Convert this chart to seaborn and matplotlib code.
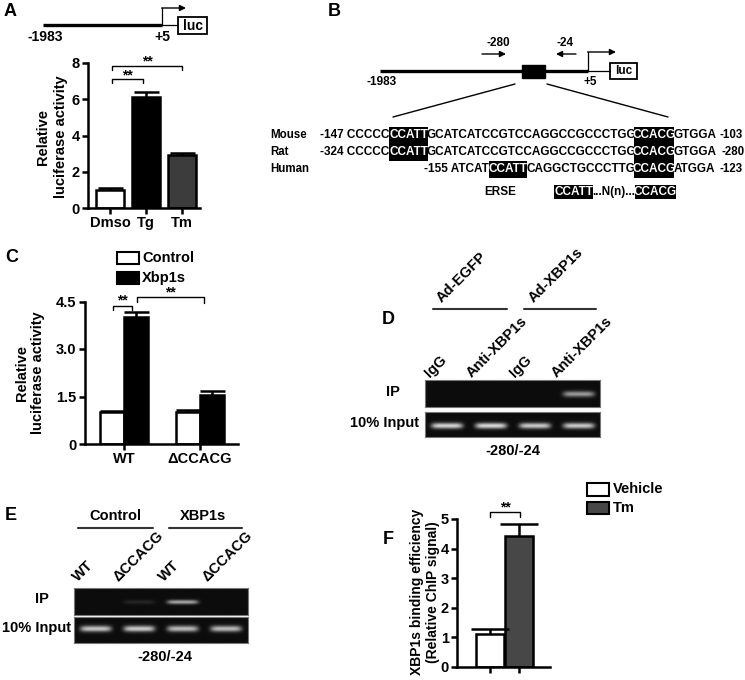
import numpy as np
import pandas as pd
import matplotlib
matplotlib.use("Agg")
import matplotlib.pyplot as plt
import seaborn as sns
from matplotlib.patches import Rectangle

sns.set_theme(style="ticks")
plt.rcParams["font.family"] = ["Liberation Sans", "DejaVu Sans"]
plt.rcParams["font.weight"] = "bold"
plt.rcParams["axes.labelweight"] = "bold"
plt.rcParams["axes.edgecolor"] = "black"
plt.rcParams["xtick.color"] = "black"
plt.rcParams["ytick.color"] = "black"
plt.rcParams["text.color"] = "black"

# ---------------- data ----------------
a_treat = ["Dmso", "Tg", "Tm"]
a_mean = [1.0, 6.1, 2.9]
a_err = [0.08, 0.32, 0.15]
a_colors = ["white", "black", "#3c3c3c"]

c_construct = ["WT", "ΔCCACG"]
c_group = ["Control", "Xbp1s"]
c_control = [1.0, 1.02]
c_xbp1s = [4.0, 1.55]
c_control_err = [0.04, 0.04]
c_xbp1s_err = [0.17, 0.12]

f_treat = ["Vehicle", "Tm"]
f_mean = [1.1, 4.42]
f_err = [0.2, 0.42]
f_colors = ["white", "#474747"]

d_lanes = ["IgG", "Anti-XBP1s", "IgG", "Anti-XBP1s"]
d_groups = ["Ad-EGFP", "Ad-XBP1s"]
d_ip = [0.0, 0.0, 0.0, 0.55]
d_input = [0.78, 0.80, 0.74, 0.74]

e_lanes = ["WT", "ΔCCACG", "WT", "ΔCCACG"]
e_groups = ["Control", "XBP1s"]
e_ip = [0.0, 0.1, 0.6, 0.0]
e_input = [0.72, 0.74, 0.68, 0.68]

seq_species = ["Mouse", "Rat", "Human"]
seq_start = ["-147", "-324", "-155"]
seq_end = ["-103", "-280", "-123"]
seq_pre = ["CCCCC", "CCCCC", "ATCAT"]
seq_box1 = ["CCATT", "CCATT", "CCATT"]
seq_mid = ["GCATCATCCGTCCAGGCCGCCCTGG", "GCATCATCCGTCCAGGCCGCCCTGG", "CAGGCTGCCCTTG"]
seq_box2 = ["CCACG", "CCACG", "CCACG"]
seq_post = ["GTGGA", "GTGGA", "ATGGA"]

# ---------------- figure ----------------
W, H = 745, 680
fig = plt.figure(figsize=(W / 100, H / 100), dpi=100)
fig.patch.set_facecolor("white")

ov = fig.add_axes([0, 0, 1, 1])
ov.set_xlim(0, W)
ov.set_ylim(H, 0)
ov.axis("off")


def px_axes(x0, y0, x1, y1):
    return fig.add_axes([x0 / W, 1 - y1 / H, (x1 - x0) / W, (y1 - y0) / H])


def T(x, y, s, size=10, ha="center", va="center", **kw):
    ov.text(x, y, s, fontsize=size, fontweight="bold", ha=ha, va=va, **kw)


def box(x0, y0, x1, y1, fc="white", lw=1.3):
    ov.add_patch(Rectangle((x0, y0), x1 - x0, y1 - y0, facecolor=fc,
                           edgecolor="black", lw=lw))


def arrow(x0, y0, x1, y1, lw=1.0):
    ov.annotate("", xy=(x1, y1), xytext=(x0, y0),
                arrowprops=dict(arrowstyle="-|>", color="black", lw=lw,
                                mutation_scale=9, shrinkA=0, shrinkB=0))


def style_bar_ax(ax):
    sns.despine(ax=ax)
    for s in ["left", "bottom"]:
        ax.spines[s].set_linewidth(1.8)
    ax.tick_params(width=1.8, length=4, labelsize=10.5, pad=2)
    ax.set_xlabel("")
    ax.set_ylabel("")
    ax.set_facecolor("none")


def errbars(ax, xs, hs, es, cap):
    _, caps, _ = ax.errorbar(xs, hs, yerr=[np.zeros(len(es)), es], fmt="none",
                             ecolor="black", elinewidth=1.8, capsize=cap,
                             capthick=1.8, zorder=5)
    if len(caps) == 2:
        caps[0].set_visible(False)


def bracket(ax, x1, x2, y, l1, l2, ty, size=10):
    ax.plot([x1, x1, x2, x2], [l1, y, y, l2], color="black", lw=1.0,
            clip_on=False)
    ax.text((x1 + x2) / 2, ty, "**", ha="center", va="center",
            fontsize=size, fontweight="bold", clip_on=False)


# ================= Panel A =================
T(10, 12, "A", size=13)
ov.plot([43, 162], [25, 25], color="black", lw=2.4, solid_capstyle="butt")
ov.plot([162, 178], [25, 25], color="black", lw=0.9)
ov.plot([162, 162], [25, 8], color="black", lw=0.9)
arrow(161.6, 8, 186, 8)
box(178, 17, 207, 34)
T(192.5, 25.5, "luc", size=10)
T(45, 37, "-1983", size=10)
T(162, 37, "+5", size=10)

axA = px_axes(88, 63, 200, 208)
sns.barplot(x=a_treat, y=a_mean, hue=a_treat, palette=a_colors, legend=False,
            edgecolor="black", linewidth=1.8, width=0.78, ax=axA)
xs = [p.get_x() + p.get_width() / 2 for p in axA.patches]
errbars(axA, xs, a_mean, a_err, 9)
axA.set_ylim(0, 8)
axA.set_xlim(-0.61, 2.5)
axA.set_yticks([0, 2, 4, 6, 8])
style_bar_ax(axA)
bracket(axA, 0.06, 0.92, 7.1, 6.88, 6.88, 7.3)
bracket(axA, 0.06, 2.0, 7.85, 7.6, 7.6, 8.1)
T(52, 137, "Relative\nluciferase activity", size=10.5, rotation=90,
  linespacing=1.3)

# ================= Panel B =================
T(334, 11, "B", size=13)
ov.plot([380, 588], [71, 71], color="black", lw=2.4, solid_capstyle="butt")
ov.add_patch(Rectangle((522, 65), 23, 13, facecolor="black", edgecolor="black"))
ov.plot([588, 610], [71, 71], color="black", lw=0.9)
ov.plot([588, 588], [71, 52], color="black", lw=0.9)
arrow(587.6, 52, 616, 52)
box(610, 63, 637, 79)
T(623.5, 71, "luc", size=8.5)
T(382, 82, "-1983", size=8.5)
T(590, 82, "+5", size=8.5)
T(498, 43, "-280", size=8.5)
arrow(482, 54, 506, 54)
T(565, 43, "-24", size=8.5)
arrow(576, 54, 556, 54)
ov.plot([515, 393], [84, 117], color="black", lw=1.0)
ov.plot([547, 668], [84, 117], color="black", lw=1.0)

row_y = [135, 152, 169]
box1_x = [(389, 428), (389, 428), (489, 527)]
box2_x = (634, 674)
end_x = [719, 721, 720]
sfs = 8.5
for i in range(3):
    y = row_y[i]
    T(270, y, seq_species[i], size=8.3, ha="left")
    b0, b1 = box1_x[i]
    T(b0, y, seq_start[i] + " " + seq_pre[i], size=sfs, ha="right")
    ov.add_patch(Rectangle((b0, y - 8.5), b1 - b0, 17, facecolor="black",
                           edgecolor="black", lw=0))
    T((b0 + b1) / 2, y, seq_box1[i], size=sfs, color="white")
    T((b1 + box2_x[0]) / 2, y, seq_mid[i], size=sfs)
    ov.add_patch(Rectangle((box2_x[0], y - 8.5), box2_x[1] - box2_x[0], 17,
                           facecolor="black", edgecolor="black", lw=0))
    T((box2_x[0] + box2_x[1]) / 2, y, seq_box2[i], size=sfs, color="white")
    T(box2_x[1], y, seq_post[i], size=sfs, ha="left")
    T(end_x[i], y, seq_end[i], size=8.3, ha="left")

ye = 192
T(500, ye, "ERSE", size=sfs)
ov.add_patch(Rectangle((554, ye - 7), 39, 14, facecolor="black", lw=0))
T(573.5, ye, "CCATT", size=sfs, color="white")
T(614, ye, "...N(n)...", size=sfs)
ov.add_patch(Rectangle((635, ye - 7), 41, 14, facecolor="black", lw=0))
T(655.5, ye, "CCACG", size=sfs, color="white")

# ================= Panel C =================
T(12, 258, "C", size=13)
box(117, 252, 139, 264, fc="white", lw=1.5)
T(142, 258, c_group[0], size=10.5, ha="left")
box(117, 272, 139, 284, fc="black", lw=1.5)
T(142, 278, c_group[1], size=10.5, ha="left")

dfC = pd.DataFrame({
    "construct": c_construct * 2,
    "group": [c_group[0]] * 2 + [c_group[1]] * 2,
    "value": c_control + c_xbp1s,
})
errC = {c_group[0]: c_control_err, c_group[1]: c_xbp1s_err}
axC = px_axes(85, 301.5, 238, 444)
sns.barplot(data=dfC, x="construct", y="value", hue="group",
            order=c_construct, hue_order=c_group,
            palette={c_group[0]: "white", c_group[1]: "black"},
            edgecolor="black", linewidth=1.8, width=0.63, legend=False, ax=axC)
for cont, g in zip(axC.containers, c_group):
    cx = [p.get_x() + p.get_width() / 2 for p in cont]
    ch = [p.get_height() for p in cont]
    errbars(axC, cx, ch, errC[g], 9)
axC.set_ylim(0, 4.5)
axC.set_xlim(-0.513, 1.5)
axC.set_yticks([0, 1.5, 3.0, 4.5])
axC.set_yticklabels(["0", "1.5", "3.0", "4.5"])
style_bar_ax(axC)
bracket(axC, -0.15, 0.11, 4.35, 4.22, 4.22, 4.52)
bracket(axC, 0.17, 1.05, 4.63, 4.47, 4.45, 4.8)
T(30, 373, "Relative\nluciferase activity", size=10.5, rotation=90,
  linespacing=1.2)


# ================= gels =================
def gel(ax, intens, yc=0.5, sy=0.12):
    xg = np.linspace(0, 4, 400)
    yg = np.linspace(0, 1, 60)
    X, Y = np.meshgrid(xg, yg)
    img = np.full(X.shape, 0.05)
    for i, v in enumerate(intens):
        img += v * np.exp(-((X - (i + 0.5)) / 0.36) ** 6) * \
            np.exp(-((Y - yc) / sy) ** 2)
    ax.imshow(img, cmap="gray", vmin=0, vmax=1, extent=(0, 4, 1, 0),
              aspect="auto", interpolation="bilinear")
    ax.set_xticks([])
    ax.set_yticks([])
    for s in ax.spines.values():
        s.set_color("#777777")
        s.set_linewidth(0.8)


# ================= Panel D =================
T(388, 320, "D", size=13)
axD1 = px_axes(425, 380, 600, 407)
gel(axD1, d_ip, 0.52, 0.11)
axD2 = px_axes(425, 412, 600, 437)
gel(axD2, d_input, 0.55)
T(393, 392, "IP", size=10.5)
T(385, 423, "10% Input", size=10.5)
T(513, 451, "-280/-24", size=10.5)
lane_px_D = [450, 492, 535, 577]
for lx, lab in zip(lane_px_D, d_lanes):
    ov.text(lx - 20, 378, lab, fontsize=10.5, fontweight="bold", rotation=45,
            rotation_mode="anchor", ha="left", va="baseline")
ov.plot([433, 507], [309, 309], color="#333333", lw=1.5)
ov.plot([524, 596], [309, 309], color="#333333", lw=1.5)
for gx, lab in zip([442, 534], d_groups):
    ov.text(gx, 303, lab, fontsize=10.5, fontweight="bold", rotation=45,
            rotation_mode="anchor", ha="left", va="baseline")

# ================= Panel E =================
T(11, 515, "E", size=13)
axE1 = px_axes(74, 588, 248, 615)
gel(axE1, e_ip, 0.52, 0.08)
axE2 = px_axes(74, 617, 248, 643)
gel(axE2, e_input, 0.45)
T(42, 599, "IP", size=10.5)
T(36, 628, "10% Input", size=10.5)
T(165, 657, "-280/-24", size=10.5)
lane_px_E = [98, 138, 184, 227]
for lx, lab in zip(lane_px_E, e_lanes):
    ov.text(lx - 20, 582, lab, fontsize=10.5, fontweight="bold", rotation=45,
            rotation_mode="anchor", ha="left", va="baseline")
T(115, 516, e_groups[0], size=10.5)
ov.plot([78, 153], [528, 528], color="#333333", lw=1.5)
T(203, 516, e_groups[1], size=10.5)
ov.plot([169, 242], [528, 528], color="#333333", lw=1.5)

# ================= Panel F =================
T(388, 540, "F", size=13)
box(587, 483, 609, 496, fc="white", lw=1.5)
T(613, 489, f_treat[0], size=10.5, ha="left")
box(587, 502, 609, 514, fc=f_colors[1], lw=1.5)
T(613, 508, f_treat[1], size=10.5, ha="left")

axF = px_axes(457, 519, 550, 667)
sns.barplot(x=f_treat, y=f_mean, hue=f_treat, palette=f_colors, legend=False,
            edgecolor="black", linewidth=1.8, width=0.98, ax=axF)
fx = [p.get_x() + p.get_width() / 2 for p in axF.patches]
errbars(axF, fx, f_mean, f_err, 14)
axF.set_ylim(0, 5)
axF.set_xlim(-1.16, 2.1)
axF.set_yticks([0, 1, 2, 3, 4, 5])
axF.set_xticks([0, 1])
axF.set_xticklabels(["", ""])
style_bar_ax(axF)
bracket(axF, 0.0, 1.05, 5.24, 5.07, 5.07, 5.4)
T(425, 592, "XBP1s binding efficiency\n(Relative ChIP signal)", size=10,
  rotation=90, linespacing=1.2)

fig.savefig("out.png", dpi=100)
